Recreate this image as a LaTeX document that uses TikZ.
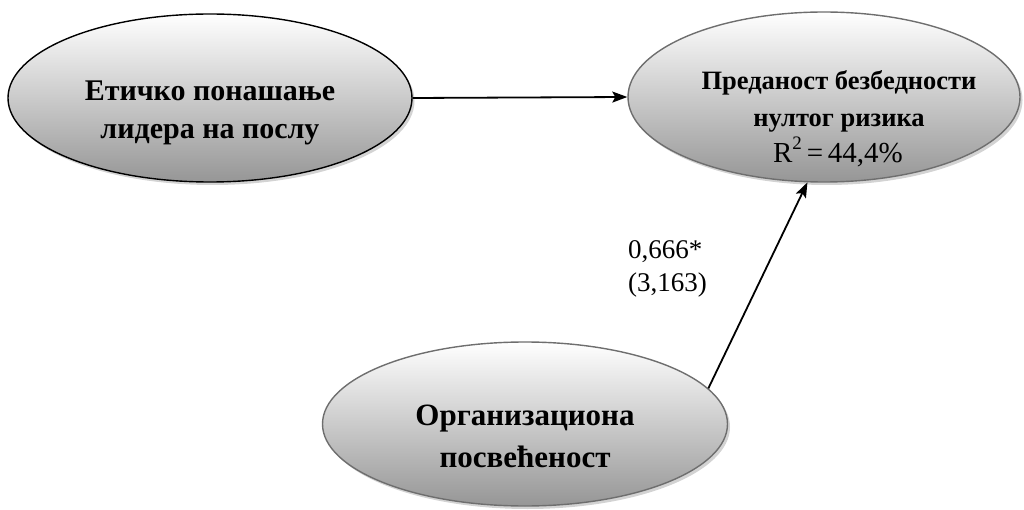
\documentclass[tikz,border=0pt]{standalone}
\usepackage{fontspec}
\setmainfont{Liberation Serif}
\usetikzlibrary{arrows.meta,shadows,shapes.geometric}
\begin{document}
\begin{tikzpicture}[x=1pt,y=-1pt,
  construct/.style={ellipse,draw={rgb,255:red,110;green,110;blue,110},line width=1.4pt,
    top color=white,bottom color={rgb,255:red,150;green,150;blue,150},
    inner sep=0pt,
    drop shadow={shadow xshift=2.5pt,shadow yshift=-3pt,opacity=0.35,fill=gray}},
  cname/.style={align=center,inner sep=0pt},
  link/.style={line width=1.8pt,-{Stealth[length=15pt,width=11pt,inset=3pt]}},
  coef/.style={align=left,font=\fontsize{27}{33}\selectfont,inner sep=0pt}
]
\useasboundingbox (0,0) rectangle (1024,510);

% latent constructs
\node[construct,draw=black,minimum width=404pt,minimum height=168pt] (e1) at (210,98) {};
\node[construct,minimum width=392pt,minimum height=170pt] (e2) at (824,97) {};
\node[construct,minimum width=405pt,minimum height=164pt] (e3) at (525,424) {};

% construct names
\node[cname,font=\fontsize{30}{38}\selectfont\bfseries] (t1) at (210,113) {Етичко понашање\\лидера на послу};
\node[cname,font=\fontsize{26.5}{37}\selectfont\bfseries] (t2) at (839,101) {Преданост безбедности\\нултог ризика};
\node[inner sep=0pt,font=\fontsize{29}{34}\selectfont] (r2) at (838,152) {R\raisebox{0.42em}{\fontsize{19}{19}\selectfont 2}\,=\,44,4\%};
\node[cname,font=\fontsize{31}{42}\selectfont\bfseries] (t3) at (525,436) {Организациона\\посвећеност};

% structural paths
\draw[link] (e1.east) -- (e2.west);
\draw[link] (e3.11.2) -- (e2.259);

% path coefficient and t-value
\node[coef,anchor=north west] (c1) at (628,240) {0,666*\\(3,163)};
\end{tikzpicture}
\end{document}
